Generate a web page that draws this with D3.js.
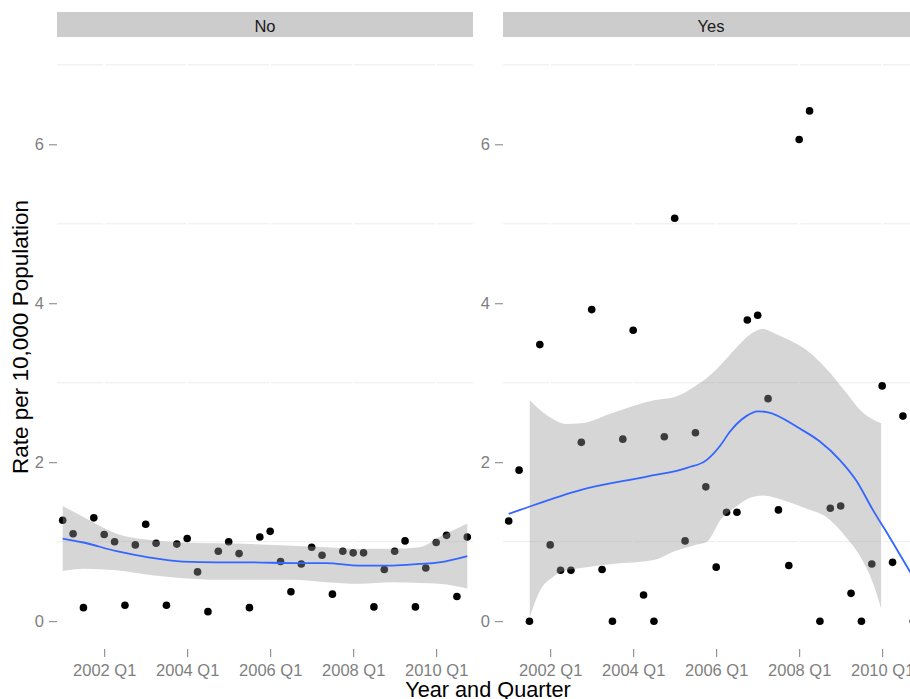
<!DOCTYPE html>
<html>
<head>
<meta charset="utf-8">
<script src="https://cdn.jsdelivr.net/npm/d3@7"></script>
<style>
  html, body { margin: 0; padding: 0; background: #ffffff; }
  svg { display: block; font-family: "Liberation Sans", Arial, Helvetica, sans-serif; }
</style>
</head>
<body>
<svg id="chart" width="910" height="699"></svg>
<script>
// Quarterly categories shared by both facets
const quarters = [
  "2001 Q1","2001 Q2","2001 Q3","2001 Q4","2002 Q1","2002 Q2","2002 Q3","2002 Q4",
  "2003 Q1","2003 Q2","2003 Q3","2003 Q4","2004 Q1","2004 Q2","2004 Q3","2004 Q4",
  "2005 Q1","2005 Q2","2005 Q3","2005 Q4","2006 Q1","2006 Q2","2006 Q3","2006 Q4",
  "2007 Q1","2007 Q2","2007 Q3","2007 Q4","2008 Q1","2008 Q2","2008 Q3","2008 Q4",
  "2009 Q1","2009 Q2","2009 Q3","2009 Q4","2010 Q1","2010 Q2","2010 Q3","2010 Q4"
];
const panelNames = ["No", "Yes"];
const xTickLabels = ["2002 Q1", "2004 Q1", "2006 Q1", "2008 Q1", "2010 Q1"];
const yTicks = [0, 2, 4, 6];
const yMinorGrid = [1, 3, 5, 7];

// Observed rates per 10,000 population
const rateNo = [
  1.27, 1.10, 0.17, 1.30, 1.09, 1.00, 0.20, 0.96, 1.22, 0.98,
  0.20, 0.97, 1.04, 0.62, 0.12, 0.88, 1.00, 0.85, 0.17, 1.06,
  1.13, 0.75, 0.37, 0.72, 0.93, 0.83, 0.34, 0.88, 0.86, 0.86,
  0.18, 0.65, 0.88, 1.01, 0.18, 0.67, 0.99, 1.08, 0.31, 1.06
];
const rateYes = [
  1.26, 1.90, 0.00, 3.48, 0.96, 0.64, 0.64, 2.25, 3.92, 0.65,
  0.00, 2.29, 3.66, 0.33, 0.00, 2.32, 5.07, 1.01, 2.37, 1.69,
  0.68, 1.37, 1.37, 3.79, 3.85, 2.80, 1.40, 0.70, 6.06, 6.42,
  0.00, 1.42, 1.45, 0.35, 0.00, 0.72, 2.96, 0.74, 2.58, 0.00
];

// Smoothed trend ("No"): position in quarters, fit, lower and upper band
const smoothNoAt   = [0, 2, 5.2, 8.4, 11.6, 14.9, 18.1, 22.2, 25.4, 28.6, 31.8, 34.4, 36.3, 39];
const smoothNoFit  = [1.04, 0.99, 0.88, 0.80, 0.75, 0.74, 0.74, 0.73, 0.73, 0.70, 0.70, 0.72, 0.74, 0.82];
const smoothNoLow  = [0.63, 0.66, 0.64, 0.58, 0.54, 0.52, 0.52, 0.52, 0.49, 0.47, 0.49, 0.48, 0.47, 0.41];
const smoothNoHigh = [1.45, 1.31, 1.10, 1.02, 0.99, 0.98, 0.97, 0.95, 0.93, 0.91, 0.91, 0.93, 1.06, 1.23];

// Smoothed trend ("Yes"): fitted line
const smoothYesAt  = [0, 1.1, 6.9, 13.3, 17.2, 19.1, 20.4, 21.3, 22.9, 24.0, 24.9, 28.1, 30.0, 31.9, 33.5, 35.1, 36.7, 38.6, 39];
const smoothYesFit = [1.35, 1.40, 1.65, 1.82, 1.93, 2.03, 2.21, 2.38, 2.58, 2.64, 2.63, 2.42, 2.26, 2.03, 1.77, 1.40, 1.06, 0.64, 0.55];
// Confidence band ("Yes"), only where it stays inside the y limits
const bandYesAt   = [2.03, 3.0, 4.3, 5.5, 7.0, 10.0, 14.0, 16.0, 18.0, 19.1, 20.4, 22.0, 23.4, 24.5, 25.5, 27.0, 28.6, 30.6, 32.5, 34.0, 35.2, 35.9];
const bandYesLow  = [0.05, 0.38, 0.56, 0.64, 0.67, 0.72, 0.77, 0.88, 0.96, 1.00, 1.27, 1.45, 1.56, 1.58, 1.56, 1.50, 1.42, 1.31, 1.06, 0.79, 0.45, 0.16];
const bandYesHigh = [2.78, 2.66, 2.54, 2.48, 2.49, 2.62, 2.78, 2.82, 2.96, 3.06, 3.22, 3.45, 3.62, 3.68, 3.63, 3.54, 3.42, 3.18, 2.88, 2.64, 2.53, 2.49];

// Layout
const panelTop = 37, panelBottom = 649;
const panelLefts = [57, 503];
const panelWidth = 416;
const stripTop = 12, stripHeight = 25;
const gridColor = "#EDEDED";
const textGrey = "#7F7F7F";

const svg = d3.select("#chart");

const y = d3.scaleLinear().domain([-0.35, 7.35]).range([panelBottom, panelTop]);

const panelData = [
  {
    name: panelNames[0],
    rates: rateNo,
    fit: smoothNoAt.map((q, i) => ({ q, v: smoothNoFit[i] })),
    band: smoothNoAt.map((q, i) => ({ q, lo: smoothNoLow[i], hi: smoothNoHigh[i] }))
  },
  {
    name: panelNames[1],
    rates: rateYes,
    fit: smoothYesAt.map((q, i) => ({ q, v: smoothYesFit[i] })),
    band: bandYesAt.map((q, i) => ({ q, lo: bandYesLow[i], hi: bandYesHigh[i] }))
  }
];

const tickPositions = xTickLabels.map(l => quarters.indexOf(l));

panelData.forEach((p, pi) => {
  const left = panelLefts[pi];
  const x = d3.scaleLinear().domain([-0.55, quarters.length - 1 + 0.55]).range([left, left + panelWidth]);

  const clipId = "clip" + pi;
  svg.append("clipPath").attr("id", clipId)
    .append("rect").attr("x", left).attr("y", panelTop)
    .attr("width", panelWidth).attr("height", panelBottom - panelTop);

  const g = svg.append("g");

  // panel background
  g.append("rect").attr("x", left).attr("y", panelTop)
    .attr("width", panelWidth).attr("height", panelBottom - panelTop)
    .attr("fill", "#ffffff");

  // minor horizontal grid
  g.selectAll(".minor").data(yMinorGrid).join("line")
    .attr("x1", left).attr("x2", left + panelWidth)
    .attr("y1", d => y(d)).attr("y2", d => y(d))
    .attr("stroke", gridColor).attr("stroke-width", 1);

  // major grid (white)
  g.selectAll(".majorx").data(tickPositions).join("line")
    .attr("x1", d => x(d)).attr("x2", d => x(d))
    .attr("y1", panelTop).attr("y2", panelBottom)
    .attr("stroke", "#ffffff").attr("stroke-width", 2);

  const plot = g.append("g").attr("clip-path", `url(#${clipId})`);

  // points
  plot.selectAll("circle").data(p.rates).join("circle")
    .attr("cx", (d, i) => x(i))
    .attr("cy", d => y(d))
    .attr("r", 3.8)
    .attr("fill", "#000000");

  // confidence band
  const area = d3.area()
    .x(d => x(d.q)).y0(d => y(d.lo)).y1(d => y(d.hi))
    .curve(d3.curveMonotoneX);
  plot.append("path").datum(p.band)
    .attr("d", area)
    .attr("fill", "#999999").attr("fill-opacity", 0.4);

  // fitted line
  const line = d3.line().x(d => x(d.q)).y(d => y(d.v)).curve(d3.curveMonotoneX);
  plot.append("path").datum(p.fit)
    .attr("d", line)
    .attr("fill", "none").attr("stroke", "#3366FF").attr("stroke-width", 1.8);

  // strip
  svg.append("rect").attr("x", left).attr("y", stripTop)
    .attr("width", panelWidth).attr("height", stripHeight)
    .attr("fill", "#CCCCCC");
  svg.append("text").attr("x", left + panelWidth / 2).attr("y", 31.5)
    .attr("text-anchor", "middle").attr("font-size", 16.5).attr("fill", "#1A1A1A")
    .text(p.name);

  // y axis
  const yAxis = d3.axisLeft(y).tickValues(yTicks).tickSize(8).tickPadding(5)
    .tickFormat(d3.format("d"));
  const ya = svg.append("g").attr("transform", `translate(${left},0)`).call(yAxis);
  ya.select(".domain").remove();
  ya.selectAll("line").attr("stroke", textGrey);
  ya.selectAll("text").attr("fill", textGrey).attr("font-size", 16.5)
    .attr("font-family", "Liberation Sans, Arial, sans-serif");

  // x axis
  const xAxis = d3.axisBottom(x).tickValues(tickPositions).tickSize(8).tickPadding(7)
    .tickFormat(d => quarters[d]);
  const xa = svg.append("g").attr("transform", `translate(0,${panelBottom})`).call(xAxis);
  xa.select(".domain").remove();
  xa.selectAll("line").attr("stroke", textGrey);
  xa.selectAll("text").attr("fill", textGrey).attr("font-size", 16.5)
    .attr("font-family", "Liberation Sans, Arial, sans-serif");
});

// axis titles
svg.append("text")
  .attr("x", (panelLefts[0] + panelLefts[1] + panelWidth) / 2)
  .attr("y", 697)
  .attr("text-anchor", "middle").attr("font-size", 21.7).attr("fill", "#000000")
  .text("Year and Quarter");

svg.append("text")
  .attr("transform", "translate(28,337) rotate(-90)")
  .attr("text-anchor", "middle").attr("font-size", 22.5).attr("fill", "#000000")
  .text("Rate per 10,000 Population");
</script>
</body>
</html>
